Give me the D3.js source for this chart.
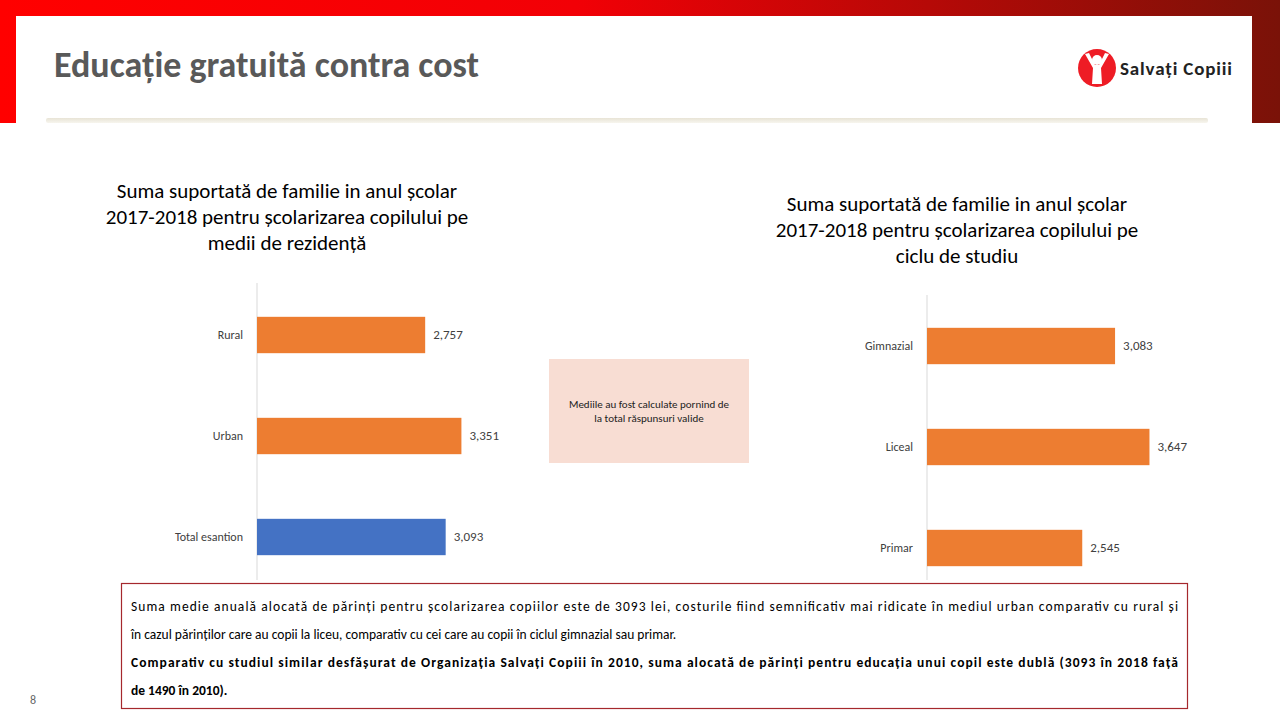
<!DOCTYPE html>
<html lang="ro">
<head>
<meta charset="UTF-8">
<title>Educaţie gratuită contra cost</title>
<script src="https://d3js.org/d3.v7.min.js"></script>
<style>
  body { margin: 0; background: #fff; }
  svg { display: block; font-family: Calibri, Carlito, Lato, sans-serif; }
</style>
</head>
<body>
<svg id="slide" width="1280" height="720"></svg>
<script>
// date
const mediiCategorii = ["Rural", "Urban", "Total esantion"];
const mediiValori = [2757, 3351, 3093];
const cicluCategorii = ["Gimnazial", "Liceal", "Primar"];
const cicluValori = [3083, 3647, 2545];

const svg = d3.select("#slide");

// fundal rosu cu degrade
const defs = svg.append("defs");
const grad = defs.append("linearGradient").attr("id", "band");
grad.append("stop").attr("offset", "0%").attr("stop-color", "#ff0000");
grad.append("stop").attr("offset", "45%").attr("stop-color", "#f20006");
grad.append("stop").attr("offset", "100%").attr("stop-color", "#7a1208");
const lg = defs.append("linearGradient").attr("id", "rule").attr("x1", 0).attr("y1", 0).attr("x2", 0).attr("y2", 1);
lg.append("stop").attr("offset", "0%").attr("stop-color", "#e8e4d6");
lg.append("stop").attr("offset", "100%").attr("stop-color", "#f7f5ee");

svg.append("rect").attr("width", 1280).attr("height", 123).attr("fill", "url(#band)");
svg.append("rect").attr("x", 16).attr("y", 16).attr("width", 1236).attr("height", 704).attr("fill", "#fff");
svg.append("rect").attr("x", 46).attr("y", 118).attr("width", 1162).attr("height", 5).attr("rx", 2).attr("fill", "url(#rule)");

svg.append("text").attr("x", 54).attr("y", 77)
  .attr("font-size", 36).attr("font-weight", "bold").attr("fill", "#595959")
  .text("Educaţie gratuită contra cost");

// logo
const logo = svg.append("g").attr("transform", "translate(1097,68)");
logo.append("circle").attr("r", 19).attr("fill", "#ee1c25");
logo.append("circle").attr("cy", -8).attr("r", 5).attr("fill", "#fff");
logo.append("path").attr("d", "M-12,-14 L-4,0 L-5,16 L5,16 L4,0 L12,-14 L8,-15 L2,-3 L-2,-3 L-8,-15Z").attr("fill", "#fff");
svg.append("text").attr("x", 1120).attr("y", 75).attr("font-size", 19).attr("font-weight", "bold")
  .attr("fill", "#222").attr("textLength", 112).text("Salvaţi Copiii");

svg.append("text").attr("x", 30).attr("y", 704).attr("font-size", 12).attr("fill", "#666").text("8");

function drawChart(cats, vals, axisX, yTop, yRange, titleLines, titleX, titleY) {
  const x = d3.scaleLinear().domain([0, 4000]).range([axisX, axisX + 244]);
  const y = d3.scaleBand().domain(cats).range(yRange).paddingInner(0.64).paddingOuter(0.32);
  const g = svg.append("g");
  titleLines.forEach((t, i) => {
    g.append("text").attr("x", titleX).attr("y", titleY + i * 26).attr("text-anchor", "middle")
      .attr("font-size", 21).attr("fill", "#000").text(t);
  });
  g.append("line").attr("x1", axisX).attr("x2", axisX).attr("y1", yTop).attr("y2", 580)
    .attr("stroke", "#d9d9d9");
  g.selectAll("rect.bar").data(cats).join("rect").attr("class", "bar")
    .attr("x", x(0)).attr("y", d => y(d)).attr("height", y.bandwidth())
    .attr("width", (d, i) => x(vals[i]) - x(0))
    .attr("fill", d => d === "Total esantion" ? "#4472c4" : "#ed7d31");
  g.selectAll("text.val").data(cats).join("text").attr("class", "val")
    .attr("x", (d, i) => x(vals[i]) + 8).attr("y", d => y(d) + y.bandwidth() / 2 + 4)
    .attr("font-size", 13).attr("fill", "#404040")
    .text((d, i) => d3.format(",")(vals[i]));
  g.selectAll("text.cat").data(cats).join("text").attr("class", "cat")
    .attr("x", axisX - 14).attr("y", d => y(d) + y.bandwidth() / 2 + 4)
    .attr("text-anchor", "end").attr("font-size", 12).attr("fill", "#404040").text(d => d);
}

drawChart(mediiCategorii, mediiValori, 257, 283, [284.5, 587.5],
  ["Suma suportată de familie in anul școlar", "2017-2018 pentru școlarizarea copilului pe", "medii de rezidenţă"], 287, 198);
drawChart(cicluCategorii, cicluValori, 927, 295, [295.5, 598.5],
  ["Suma suportată de familie in anul școlar", "2017-2018 pentru școlarizarea copilului pe", "ciclu de studiu"], 957, 211);

// nota
svg.append("rect").attr("x", 549).attr("y", 359).attr("width", 200).attr("height", 104).attr("fill", "#f8ddd3");
["Mediile au fost calculate pornind de", "la total răspunsuri valide"].forEach((t, i) => {
  svg.append("text").attr("x", 649).attr("y", 408 + i * 14).attr("text-anchor", "middle")
    .attr("font-size", 11).attr("fill", "#222").text(t);
});

// caseta de text
svg.append("rect").attr("x", 121.5).attr("y", 583.5).attr("width", 1066).attr("height", 125)
  .attr("fill", "#fff").attr("stroke", "#a5282d").attr("stroke-width", 1.2);
const lines = [
  ["Suma medie anuală alocată de părinţi pentru şcolarizarea copiilor este de 3093 lei, costurile fiind semnificativ mai ridicate în mediul urban comparativ cu rural şi", false, true],
  ["în cazul părinţilor care au copii la liceu, comparativ cu cei care au copii în ciclul gimnazial sau primar.", false, false],
  ["Comparativ cu studiul similar desfăşurat de Organizaţia Salvaţi Copiii în 2010, suma alocată de părinţi pentru educaţia unui copil este dublă (3093 în 2018 faţă", true, true],
  ["de 1490 în 2010).", true, false]
];
lines.forEach((l, i) => {
  const t = svg.append("text").attr("x", 131).attr("y", 611 + i * 28).attr("font-size", 13.5)
    .attr("fill", "#000").attr("font-weight", l[1] ? "bold" : "normal").text(l[0]);
  if (l[2]) t.attr("textLength", 1047).attr("lengthAdjust", "spacing");
});
</script>
</body>
</html>
